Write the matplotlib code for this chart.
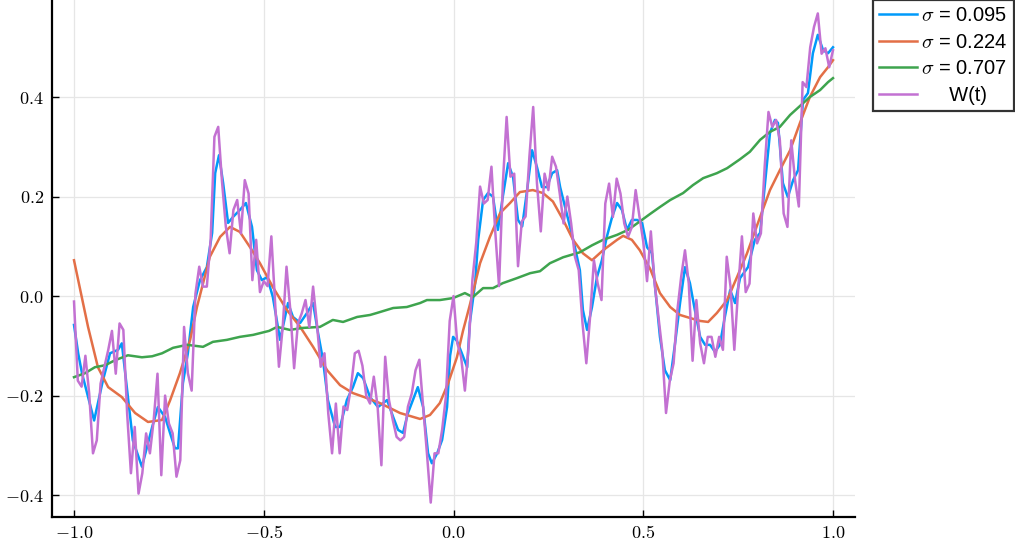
import numpy as np
import matplotlib
matplotlib.use("Agg")
import matplotlib.pyplot as plt

plt.rcParams['mathtext.fontset'] = 'cm'
plt.rcParams['font.family'] = ['Liberation Sans', 'DejaVu Sans']

# Brownian path sampled on a regular grid
t_w = np.linspace(-1.0, 1.0, 201)
w_values = [
    -0.011, -0.17, -0.182, -0.12, -0.196, -0.316, -0.29, -0.176, -0.142, -0.109,
    -0.07, -0.156, -0.055, -0.068, -0.236, -0.356, -0.263, -0.397, -0.356, -0.276,
    -0.316, -0.249, -0.156, -0.36, -0.2, -0.256, -0.276, -0.363, -0.33, -0.062,
    -0.155, -0.19, 0.005, 0.059, 0.019, 0.019, 0.113, 0.32, 0.34, 0.23,
    0.14, 0.086, 0.173, 0.193, 0.126, 0.233, 0.206, 0.032, 0.113, 0.008,
    0.03, 0.02, 0.12, -0.015, -0.142, -0.062, 0.059, -0.028, -0.145, -0.055,
    -0.035, -0.008, -0.062, 0.019, -0.055, -0.142, -0.115, -0.236, -0.316, -0.216,
    -0.316, -0.222, -0.229, -0.182, -0.115, -0.11, -0.14, -0.2, -0.216, -0.162,
    -0.222, -0.34, -0.122, -0.209, -0.249, -0.283, -0.29, -0.283, -0.222, -0.196,
    -0.149, -0.128, -0.222, -0.316, -0.415, -0.316, -0.316, -0.269, -0.202, -0.05,
    0.0, -0.095, -0.122, -0.19, -0.1, 0.034, 0.108, 0.22, 0.186, 0.193,
    0.26, 0.13, 0.02, 0.226, 0.36, 0.24, 0.246, 0.06, 0.15, 0.16,
    0.28, 0.38, 0.226, 0.13, 0.246, 0.213, 0.28, 0.26, 0.206, 0.146,
    0.2, 0.146, 0.079, 0.052, -0.055, -0.135, -0.041, 0.072, 0.025, -0.008,
    0.186, 0.226, 0.159, 0.236, 0.206, 0.146, 0.119, 0.139, 0.213, 0.16,
    0.11, 0.03, 0.13, 0.025, -0.041, -0.108, -0.235, -0.17, -0.135, -0.028,
    0.039, 0.092, 0.025, -0.13, -0.008, -0.095, -0.135, -0.082, -0.082, -0.122,
    -0.082, -0.108, 0.079, 0.019, -0.108, 0.012, 0.12, 0.008, 0.025, 0.166,
    0.106, 0.126, 0.26, 0.37, 0.34, 0.354, 0.313, 0.166, 0.139, 0.313,
    0.233, 0.18, 0.43, 0.42, 0.5, 0.541, 0.568, 0.487, 0.498, 0.46,
    0.494,
]

# smoothed curves, (t, value) pairs
smooth_095 = [
    (-1.0, -0.058), (-0.989, -0.115), (-0.979, -0.155), (-0.947, -0.25), (-0.924, -0.17),
    (-0.905, -0.115), (-0.884, -0.108), (-0.874, -0.095), (-0.845, -0.29), (-0.821, -0.343),
    (-0.794, -0.263), (-0.779, -0.223), (-0.760, -0.243), (-0.747, -0.275), (-0.734, -0.306),
    (-0.726, -0.306), (-0.713, -0.175), (-0.700, -0.115), (-0.686, -0.022), (-0.668, 0.032),
    (-0.650, 0.058), (-0.636, 0.127), (-0.628, 0.247), (-0.618, 0.283), (-0.607, 0.227),
    (-0.594, 0.147), (-0.581, 0.159), (-0.563, 0.173), (-0.547, 0.187), (-0.531, 0.139),
    (-0.518, 0.052), (-0.505, 0.032), (-0.491, 0.038), (-0.476, -0.002), (-0.457, -0.088),
    (-0.436, -0.014), (-0.423, -0.042), (-0.404, -0.054), (-0.386, -0.034), (-0.370, -0.014),
    (-0.357, -0.074), (-0.344, -0.128), (-0.331, -0.209), (-0.312, -0.263), (-0.299, -0.263),
    (-0.281, -0.209), (-0.265, -0.183), (-0.252, -0.155), (-0.238, -0.165), (-0.220, -0.203),
    (-0.199, -0.223), (-0.175, -0.209), (-0.159, -0.243), (-0.146, -0.269), (-0.133, -0.275),
    (-0.120, -0.235), (-0.107, -0.209), (-0.094, -0.183), (-0.080, -0.223), (-0.067, -0.316),
    (-0.057, -0.336), (-0.043, -0.316), (-0.030, -0.289), (-0.017, -0.223), (-0.009, -0.12),
    (-0.001, -0.082), (0.009, -0.09), (0.022, -0.115), (0.036, -0.143), (0.043, -0.054),
    (0.057, 0.026), (0.065, 0.113), (0.078, 0.193), (0.091, 0.207), (0.104, 0.2),
    (0.117, 0.133), (0.130, 0.2), (0.144, 0.267), (0.157, 0.239), (0.170, 0.153),
    (0.181, 0.14), (0.194, 0.213), (0.207, 0.293), (0.220, 0.259), (0.233, 0.219),
    (0.246, 0.219), (0.260, 0.247), (0.273, 0.253), (0.281, 0.219), (0.294, 0.179),
    (0.307, 0.139), (0.320, 0.098), (0.333, 0.052), (0.341, -0.028), (0.352, -0.068),
    (0.365, -0.022), (0.378, 0.038), (0.391, 0.072), (0.404, 0.119), (0.418, 0.159),
    (0.431, 0.187), (0.444, 0.173), (0.457, 0.133), (0.470, 0.153), (0.484, 0.153),
    (0.497, 0.147), (0.510, 0.098), (0.523, 0.086), (0.531, 0.02), (0.544, -0.082),
    (0.557, -0.149), (0.571, -0.169), (0.584, -0.094), (0.597, -0.014), (0.610, 0.058),
    (0.623, 0.026), (0.636, -0.028), (0.650, -0.082), (0.663, -0.098), (0.676, -0.098),
    (0.689, -0.112), (0.702, -0.098), (0.715, -0.042), (0.729, 0.012), (0.742, -0.014),
    (0.755, 0.036), (0.776, 0.058), (0.794, 0.113), (0.808, 0.127), (0.821, 0.227),
    (0.834, 0.328), (0.847, 0.354), (0.855, 0.348), (0.868, 0.227), (0.881, 0.199),
    (0.895, 0.233), (0.908, 0.253), (0.921, 0.394), (0.934, 0.408), (0.947, 0.488),
    (0.960, 0.525), (0.974, 0.494), (0.987, 0.488), (1.0, 0.5),
]

smooth_224 = [
    (-1.0, 0.072), (-0.963, -0.062), (-0.937, -0.143), (-0.910, -0.183), (-0.874, -0.203),
    (-0.839, -0.235), (-0.805, -0.253), (-0.768, -0.249), (-0.747, -0.21), (-0.721, -0.155),
    (-0.694, -0.088), (-0.676, -0.022), (-0.642, 0.079), (-0.615, 0.119), (-0.589, 0.139),
    (-0.563, 0.129), (-0.536, 0.098), (-0.510, 0.066), (-0.476, 0.018), (-0.439, -0.028),
    (-0.404, -0.062), (-0.370, -0.102), (-0.333, -0.149), (-0.299, -0.179), (-0.265, -0.195),
    (-0.228, -0.205), (-0.194, -0.215), (-0.141, -0.235), (-0.088, -0.247), (-0.062, -0.239),
    (-0.036, -0.215), (-0.014, -0.175), (0.009, -0.123), (0.025, -0.07), (0.043, -0.018),
    (0.070, 0.066), (0.096, 0.119), (0.123, 0.167), (0.149, 0.187), (0.175, 0.209),
    (0.209, 0.213), (0.236, 0.207), (0.262, 0.19), (0.289, 0.153), (0.315, 0.113),
    (0.341, 0.086), (0.365, 0.072), (0.394, 0.092), (0.431, 0.113), (0.447, 0.121),
    (0.470, 0.113), (0.491, 0.092), (0.518, 0.055), (0.544, 0.006), (0.571, -0.022),
    (0.597, -0.038), (0.623, -0.044), (0.650, -0.05), (0.671, -0.052), (0.694, -0.034),
    (0.721, -0.008), (0.747, 0.038), (0.773, 0.085), (0.808, 0.159), (0.834, 0.213),
    (0.860, 0.253), (0.887, 0.293), (0.913, 0.348), (0.939, 0.4), (0.966, 0.44),
    (0.987, 0.46), (1.0, 0.474),
]

smooth_707 = [
    (-1.0, -0.163), (-0.971, -0.155), (-0.945, -0.143), (-0.918, -0.139), (-0.892, -0.129),
    (-0.858, -0.119), (-0.821, -0.123), (-0.794, -0.121), (-0.768, -0.115), (-0.739, -0.104),
    (-0.702, -0.098), (-0.660, -0.102), (-0.634, -0.092), (-0.597, -0.088), (-0.563, -0.082),
    (-0.528, -0.078), (-0.486, -0.07), (-0.465, -0.062), (-0.431, -0.068), (-0.397, -0.064),
    (-0.352, -0.062), (-0.318, -0.048), (-0.291, -0.052), (-0.254, -0.042), (-0.220, -0.038),
    (-0.202, -0.034), (-0.159, -0.024), (-0.123, -0.022), (-0.088, -0.014), (-0.070, -0.008),
    (-0.036, -0.008), (-0.001, -0.004), (0.030, 0.006), (0.051, -0.002), (0.078, 0.016),
    (0.104, 0.016), (0.130, 0.026), (0.167, 0.036), (0.202, 0.046), (0.228, 0.05),
    (0.254, 0.066), (0.289, 0.078), (0.333, 0.088), (0.365, 0.102), (0.394, 0.113),
    (0.431, 0.123), (0.460, 0.133), (0.491, 0.15), (0.518, 0.165), (0.544, 0.179),
    (0.571, 0.193), (0.605, 0.207), (0.631, 0.223), (0.658, 0.237), (0.694, 0.247),
    (0.721, 0.257), (0.755, 0.275), (0.781, 0.29), (0.808, 0.314), (0.834, 0.33),
    (0.860, 0.34), (0.887, 0.364), (0.913, 0.382), (0.939, 0.4), (0.966, 0.414),
    (0.987, 0.43), (1.0, 0.438),
]

series = [
    (smooth_095, '#009AFA', r'$\sigma$ = 0.095'),
    (smooth_224, '#E36F47', r'$\sigma$ = 0.224'),
    (smooth_707, '#3EA44E', r'$\sigma$ = 0.707'),
]

fig = plt.figure(figsize=(10.15, 5.48), dpi=100)
ax = fig.add_axes([52 / 1015, 31 / 548, 803 / 1015, 517 / 548])

for pts, color, label in series:
    t, v = zip(*pts)
    ax.plot(t, v, color=color, lw=1.8, label=label)
ax.plot(t_w, w_values, color='#C371D2', lw=1.8, label='     W(t)')

ax.set_xlim(-1.058, 1.058)
ax.set_ylim(-0.444, 0.595)

xt = [-1.0, -0.5, 0.0, 0.5, 1.0]
yt = [-0.4, -0.2, 0.0, 0.2, 0.4]
ax.set_xticks(xt)
ax.set_xticklabels([r'$%.1f$' % v for v in xt])
ax.set_yticks(yt)
ax.set_yticklabels([r'$%.1f$' % v for v in yt])
ax.tick_params(direction='in', length=5, width=1, labelsize=13, pad=6)

ax.grid(True, color='#e6e6e6', lw=0.9)
ax.set_axisbelow(True)
for side in ['top', 'right']:
    ax.spines[side].set_visible(False)
for side in ['left', 'bottom']:
    ax.spines[side].set_linewidth(1.6)

leg = fig.legend(loc='upper left', bbox_to_anchor=(873 / 1015, 1.0),
                 frameon=True, fancybox=False, edgecolor='black',
                 fontsize=14.5, handlelength=1.9, borderaxespad=0,
                 labelspacing=0.38, borderpad=0.3, handletextpad=0.2)
leg.get_frame().set_linewidth(1.6)

fig.savefig('out.png', dpi=100)
